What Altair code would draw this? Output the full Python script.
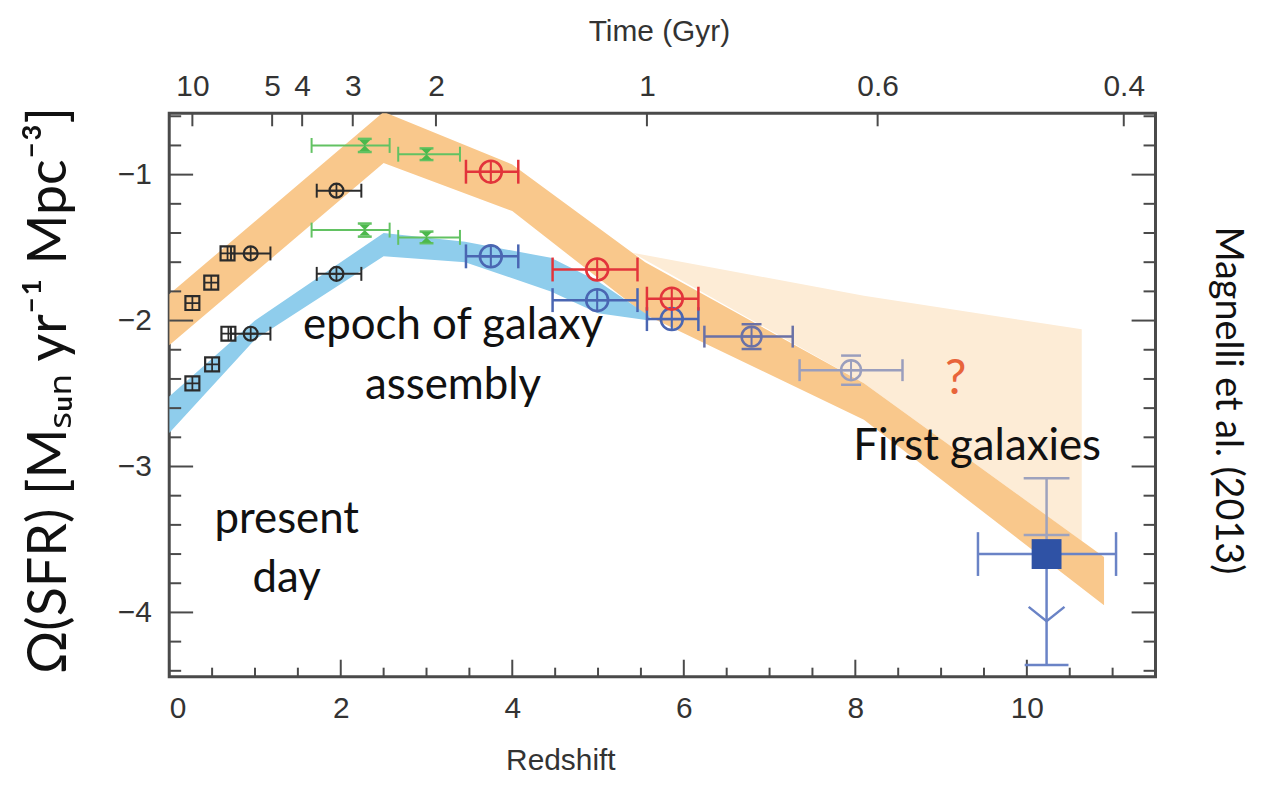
import altair as alt
import pandas as pd

# ---------------- data ----------------
# shaded bands (redshift, upper edge, lower edge) in log SFR density
orange_z = [0.0, 2.5, 4.0, 5.55, 8.1, 10.9]
orange_top = [-1.82, -0.57, -0.93, -1.60, -2.43, -3.62]
orange_bot = [-2.17, -0.92, -1.25, -1.96, -2.68, -3.95]

blue_z = [0.0, 1.0, 2.5, 3.45, 4.45, 5.0, 5.6]
blue_top = [-2.52, -2.00, -1.40, -1.46, -1.57, -1.73, -1.97]
blue_bot = [-2.77, -2.13, -1.56, -1.60, -1.80, -1.95, -2.00]

pale_z = [5.4, 8.1, 10.64]
pale_top = [-1.535, -1.83, -2.06]
pale_bot = [-1.535, -2.43, -3.51]

# black points (squares and circles)
black_sq_z = [0.27, 0.49, 0.68, 0.27, 0.50, 0.69]
black_sq_y = [-1.88, -1.74, -1.54, -2.43, -2.30, -2.09]
black_ci_z = [0.95, 1.95, 0.95, 1.95]
black_ci_y = [-1.54, -1.11, -2.09, -1.68]
black_ci_lo = [0.72, 1.72, 0.72, 1.72]
black_ci_hi = [1.18, 2.24, 1.18, 2.24]

# green points
green_z = [2.28, 3.00, 2.28, 3.00]
green_y = [-0.80, -0.86, -1.38, -1.43]
green_lo = [1.66, 2.67, 1.66, 2.67]
green_hi = [2.57, 3.39, 2.57, 3.39]
green_err = [0.045, 0.04, 0.045, 0.04]

# red / blue circles
rb_z = [3.75, 4.99, 5.86]
rb_lo = [3.46, 4.47, 5.57]
rb_hi = [4.07, 5.46, 6.17]
red_y = [-0.98, -1.65, -1.85]
blue_y = [-1.56, -1.86, -1.99]

# grey-blue circles
grey_z = [6.79, 7.95]
grey_y = [-2.11, -2.34]
grey_lo = [6.24, 7.35]
grey_hi = [7.27, 8.55]
grey_err = [0.085, 0.10]
grey_col = ["#6a71a6", "#9a9ebd"]

# z~10 candidate
big_z = [10.23]
big_y = [-3.60]
big_lo = [9.43]
big_hi = [11.04]
big_up = [-3.08]
big_cap2 = [-3.47]
big_down = [-4.36]
big_arrow = [-4.06]

# axes ticks
x_major = [0, 2, 4, 6, 8, 10]
x_minor = [0.5, 1.0, 1.5, 2.5, 3.0, 3.5, 4.5, 5.0, 5.5, 6.5, 7.0, 7.5,
           8.5, 9.0, 9.5, 10.5, 11.0]
y_major = [-1, -2, -3, -4]
y_minor = [-0.6, -0.8, -1.2, -1.4, -1.6, -1.8, -2.2, -2.4, -2.6, -2.8,
           -3.2, -3.4, -3.6, -3.8, -4.2, -4.4]
time_z = [0.27, 1.20, 1.55, 2.14, 3.11, 5.57, 8.26, 11.13]
time_labels = ["10", "5", "4", "3", "2", "1", "0.6", "0.4"]

# annotations
ann_text = ["epoch of galaxy", "assembly", "present", "day", "First galaxies"]
ann_z = [3.31, 3.31, 1.37, 1.37, 9.42]
ann_y = [-2.04, -2.45, -3.37, -3.77, -2.87]

# ---------------- chart ----------------
W, H = 991, 566
AX_FONT = "Liberation Sans, Arial, Helvetica, sans-serif"
ANN_FONT = "Lato, Noto Sans, DejaVu Sans, sans-serif"
AX_SIZE = 30

xscale = alt.Scale(domain=[0, 11.5], nice=False, zero=False)
yscale = alt.Scale(domain=[-4.44, -0.58], nice=False, zero=False)


def X(f, axis=None):
    return alt.X(f, type="quantitative", scale=xscale, axis=axis)


def Y(f, axis=None):
    return alt.Y(f, type="quantitative", scale=yscale, axis=axis)


VLINE = "M0,-1L0,1"
HLINE = "M-1,0L1,0"
CROSS = "M-1,0L1,0M0,-1L0,1"
HOURGLASS = "M-1,-1L1,-1L-1,1L1,1Z"
VEE = "M-1,-0.8L0,0L1,-0.8"

layers = []

# bands
pale_df = pd.DataFrame({"z": pale_z, "top": pale_top, "bot": pale_bot})
layers.append(alt.Chart(pale_df).mark_area(color="#fdecd6", clip=True).encode(
    x=X("z"), y=Y("top"), y2="bot"))

orange_df = pd.DataFrame({"z": orange_z, "top": orange_top, "bot": orange_bot})
bottom_axis = alt.Axis(orient="bottom", values=x_major, ticks=False, domain=False,
                       grid=False, labelFont=AX_FONT, labelFontSize=AX_SIZE,
                       labelColor="#333333", labelPadding=17, title="Redshift",
                       titleFont=AX_FONT, titleFontSize=AX_SIZE, titleFontWeight="normal",
                       titleColor="#333333", titleX=393, titleY=84,
                       titleBaseline="middle")
left_axis = alt.Axis(orient="left", values=y_major, ticks=False, domain=False,
                     grid=False, labelFont=AX_FONT, labelFontSize=AX_SIZE,
                     labelColor="#333333", labelPadding=18,
                     title="Ω(SFR) [Mₛᵤₙ yr⁻¹ Mpc⁻³]", titleFont=ANN_FONT,
                     titleFontSize=54, titleFontWeight="normal", titleColor="#111111",
                     titleX=-120, titleY=H / 2 - 5, titleBaseline="middle",
                     titleAngle=270, titleAlign="center")
layers.append(alt.Chart(orange_df).mark_area(color="#f9c88c", clip=True).encode(
    x=X("z", bottom_axis), y=Y("top", left_axis), y2="bot"))

blue_df = pd.DataFrame({"z": blue_z, "top": blue_top, "bot": blue_bot})
layers.append(alt.Chart(blue_df).mark_area(color="#8fcdec", clip=True).encode(
    x=X("z"), y=Y("top"), y2="bot"))

# frame ticks (inward)
xmaj_df = pd.DataFrame({"z": x_major})
xmin_df = pd.DataFrame({"z": x_minor})
ymaj_df = pd.DataFrame({"v": y_major})
ymin_df = pd.DataFrame({"v": y_minor})
tick_col = "#4a4a4a"
layers.append(alt.Chart(xmaj_df).mark_rule(color=tick_col, strokeWidth=2).encode(
    x=X("z"), y=alt.value(H), y2=alt.value(H - 17)))
layers.append(alt.Chart(xmin_df).mark_rule(color=tick_col, strokeWidth=2).encode(
    x=X("z"), y=alt.value(H), y2=alt.value(H - 9)))
layers.append(alt.Chart(ymaj_df).mark_rule(color=tick_col, strokeWidth=2).encode(
    y=Y("v"), x=alt.value(0), x2=alt.value(24)))
layers.append(alt.Chart(ymin_df).mark_rule(color=tick_col, strokeWidth=2).encode(
    y=Y("v"), x=alt.value(0), x2=alt.value(12)))
right_axis = alt.Axis(orient="right", values=y_major, ticks=False, domain=False,
                      labels=False, grid=False, title="Magnelli et al. (2013)",
                      titleFont=ANN_FONT, titleFontSize=38, titleFontWeight="normal",
                      titleColor="#111111", titleAngle=90, titleX=71,
                      titleY=H / 2 + 5, titleBaseline="middle", titleAlign="center")
layers.append(alt.Chart(ymaj_df).mark_rule(color=tick_col, strokeWidth=2).encode(
    y=Y("v", right_axis), x=alt.value(W), x2=alt.value(W - 24)))
layers.append(alt.Chart(ymin_df).mark_rule(color=tick_col, strokeWidth=2).encode(
    y=Y("v"), x=alt.value(W), x2=alt.value(W - 12)))

time_df = pd.DataFrame({"z": time_z})
zs = "[" + ",".join(repr(v) for v in time_z) + "]"
ls = "[" + ",".join("'" + s + "'" for s in time_labels) + "]"
top_axis = alt.Axis(orient="top", values=time_z, ticks=False, domain=False, grid=False,
                    labelExpr=f"{ls}[indexof({zs}, datum.value)]",
                    labelFont=AX_FONT, labelFontSize=AX_SIZE, labelColor="#333333",
                    labelPadding=12, title="Time (Gyr)", titleFont=AX_FONT,
                    titleFontSize=AX_SIZE, titleFontWeight="normal", titleColor="#333333",
                    titleX=492, titleY=-82, titleBaseline="middle")
layers.append(alt.Chart(time_df).mark_rule(color=tick_col, strokeWidth=2).encode(
    x=X("z", top_axis), y=alt.value(0), y2=alt.value(13)))


def hbar_layers(df, color, cap, sw):
    out = [alt.Chart(df).mark_rule(color=color, strokeWidth=sw).encode(
        x=X("lo"), x2="hi", y=Y("y"))]
    out.append(alt.Chart(df).transform_fold(["lo", "hi"], as_=["side", "zc"])
               .mark_point(shape=VLINE, size=cap * cap, color=color, strokeWidth=sw,
                           filled=False, opacity=1).encode(x=X("zc:Q"), y=Y("y")))
    return out


def marker_layers(df, color, shape, d, sw):
    return [
        alt.Chart(df).mark_point(shape=shape, size=d * d, color=color, strokeWidth=sw,
                                 filled=False, opacity=1).encode(x=X("z"), y=Y("y")),
        alt.Chart(df).mark_point(shape=CROSS, size=d * d, color=color, strokeWidth=sw * 0.8,
                                 filled=False, opacity=1).encode(x=X("z"), y=Y("y")),
    ]


# black
bci_df = pd.DataFrame({"z": black_ci_z, "y": black_ci_y, "lo": black_ci_lo, "hi": black_ci_hi})
layers += hbar_layers(bci_df, "#2b2b2b", 14, 2)
bsq_df = pd.DataFrame({"z": black_sq_z, "y": black_sq_y})
layers += marker_layers(bsq_df, "#2b2b2b", "square", 14, 2.2)
layers += marker_layers(bci_df, "#2b2b2b", "circle", 14, 2.2)

# green
GREEN = "#62c262"
gr_df = pd.DataFrame({"z": green_z, "y": green_y, "lo": green_lo, "hi": green_hi,
                      "ylo": [a - b for a, b in zip(green_y, green_err)],
                      "yhi": [a + b for a, b in zip(green_y, green_err)]})
layers += hbar_layers(gr_df, GREEN, 15, 2)
layers.append(alt.Chart(gr_df).transform_fold(["ylo", "yhi"], as_=["side", "yc"])
              .mark_point(shape=HLINE, size=196, color=GREEN, strokeWidth=2.5,
                          filled=False, opacity=1).encode(x=X("z"), y=Y("yc:Q")))
layers.append(alt.Chart(gr_df).mark_point(shape=HOURGLASS, size=121, color="#4cb84c",
                                          filled=True, opacity=1).encode(x=X("z"), y=Y("y")))

# red & blue
red_df = pd.DataFrame({"z": rb_z, "y": red_y, "lo": rb_lo, "hi": rb_hi})
blu_df = pd.DataFrame({"z": rb_z, "y": blue_y, "lo": rb_lo, "hi": rb_hi})
layers += hbar_layers(blu_df, "#4a66b2", 24, 2.5)
layers += marker_layers(blu_df, "#4a66b2", "circle", 22, 2.6)
layers += hbar_layers(red_df, "#e2343b", 24, 2.5)
layers += marker_layers(red_df, "#e2343b", "circle", 22, 2.6)

# grey-blue
for i in range(len(grey_z)):
    gdf = pd.DataFrame({"z": [grey_z[i]], "y": [grey_y[i]], "lo": [grey_lo[i]],
                        "hi": [grey_hi[i]], "ylo": [grey_y[i] - grey_err[i]],
                        "yhi": [grey_y[i] + grey_err[i]]})
    c = grey_col[i]
    layers += hbar_layers(gdf, c, 22, 2.5)
    layers.append(alt.Chart(gdf).transform_fold(["ylo", "yhi"], as_=["side", "yc"])
                  .mark_point(shape=HLINE, size=400, color=c, strokeWidth=2.5,
                              filled=False, opacity=1).encode(x=X("z"), y=Y("yc:Q")))
    layers += marker_layers(gdf, c, "circle", 20, 2.5)

# z~10 candidate
big_df = pd.DataFrame({"z": big_z, "y": big_y, "lo": big_lo, "hi": big_hi,
                       "up": big_up, "cap2": big_cap2, "down": big_down,
                       "arrow": big_arrow})
layers.append(alt.Chart(big_df).mark_rule(color="#9ea2bd", strokeWidth=2.5).encode(
    x=X("z"), y=Y("up"), y2="y"))
layers.append(alt.Chart(big_df).transform_fold(["up", "cap2"], as_=["side", "yc"])
              .mark_point(shape=HLINE, size=46 * 46, color="#9ea2bd", strokeWidth=2.5,
                          filled=False, opacity=1).encode(x=X("z"), y=Y("yc:Q")))
layers.append(alt.Chart(big_df).mark_rule(color="#6a83c6", strokeWidth=2.5).encode(
    x=X("z"), y=Y("y"), y2="down"))
layers.append(alt.Chart(big_df).mark_point(shape=HLINE, size=44 * 44, color="#6a83c6",
                                           strokeWidth=2.5, filled=False, opacity=1)
              .encode(x=X("z"), y=Y("down")))
layers.append(alt.Chart(big_df).mark_point(shape=VEE, size=36 * 36, color="#6a83c6",
                                           strokeWidth=2.5, filled=False, opacity=1)
              .encode(x=X("z"), y=Y("arrow")))
layers += hbar_layers(big_df, "#6a83c6", 44, 2.5)
layers.append(alt.Chart(big_df).mark_point(shape="square", size=30 * 30, color="#2f52a5",
                                           filled=True, opacity=1)
              .encode(x=X("z"), y=Y("y")))

# annotations
ann_df = pd.DataFrame({"z": ann_z, "y": ann_y, "t": ann_text})
layers.append(alt.Chart(ann_df).mark_text(font=ANN_FONT, fontSize=44, color="#111111",
                                          align="center", baseline="middle")
              .encode(x=X("z"), y=Y("y"), text="t:N"))
q_df = pd.DataFrame({"z": [9.17], "y": [-2.41], "t": ["?"]})
layers.append(alt.Chart(q_df).mark_text(font=ANN_FONT, fontSize=48, color="#e8643a",
                                        align="center", baseline="middle")
              .encode(x=X("z"), y=Y("y"), text="t:N"))

chart = (alt.layer(*layers)
         .resolve_axis(x="independent", y="independent")
         .properties(width=W, height=H,
                     autosize=alt.AutoSizeParams(type="none"),
                     padding={"left": 162, "top": 104, "right": 104, "bottom": 100},
                     background="white")
         .configure_view(stroke="#4a4a4a", strokeWidth=3))

chart.save("out.html", embed_options={"renderer": "svg", "actions": False})
